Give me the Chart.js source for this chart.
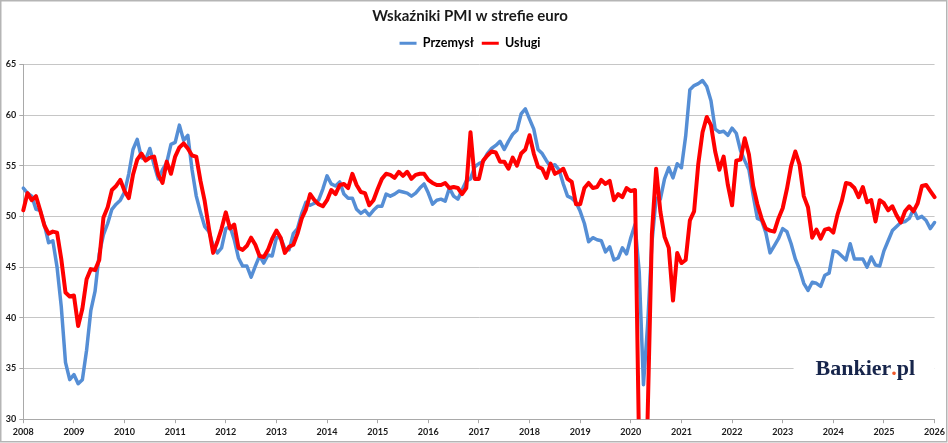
<!DOCTYPE html>
<html lang="pl">
<head>
<meta charset="utf-8">
<title>Wskaźniki PMI w strefie euro</title>
<script src="https://cdn.jsdelivr.net/npm/chart.js@4.4.1/dist/chart.umd.min.js"></script>
<style>
  html, body { margin: 0; padding: 0; background: #fff; }
  #wrap { width: 948px; height: 443px; }
</style>
</head>
<body>
<div id="wrap"><canvas id="pmi" width="948" height="443"></canvas></div>
<script>
// tick labels on the time axis (one per January)
const years = [2008, 2009, 2010, 2011, 2012, 2013, 2014, 2015, 2016, 2017,
               2018, 2019, 2020, 2021, 2022, 2023, 2024, 2025, 2026];

// PMI przemysł, monthly, Jan 2008 - Jan 2026
const pmiPrzemysl = [
  52.8, 52.3, 52.0, 50.7, 50.6, 49.2, 47.4, 47.6, 45.0, 41.1, 35.6, 33.9, // 2008
  34.4, 33.5, 33.9, 36.8, 40.7, 42.6, 46.3, 48.2, 49.3, 50.7, 51.2, 51.6, // 2009
  52.4, 54.2, 56.6, 57.6, 55.8, 55.6, 56.7, 55.1, 53.7, 54.6, 55.3, 57.1, // 2010
  57.3, 59.0, 57.5, 58.0, 54.6, 52.0, 50.4, 49.0, 48.5, 47.1, 46.4, 46.9, // 2011
  48.8, 49.0, 47.7, 45.9, 45.1, 45.1, 44.0, 45.1, 46.1, 45.4, 46.2, 46.1, // 2012
  47.9, 47.9, 46.8, 46.7, 48.3, 48.8, 50.3, 51.4, 51.1, 51.3, 51.6, 52.7, // 2013
  54.0, 53.2, 53.0, 53.4, 52.2, 51.8, 51.8, 50.7, 50.3, 50.6, 50.1, 50.6, // 2014
  51.0, 51.0, 52.2, 52.0, 52.2, 52.5, 52.4, 52.3, 52.0, 52.3, 52.8, 53.2, // 2015
  52.3, 51.2, 51.6, 51.7, 51.5, 52.8, 52.0, 51.7, 52.6, 53.5, 53.7, 54.9, // 2016
  55.2, 55.4, 56.2, 56.7, 57.0, 57.4, 56.6, 57.4, 58.1, 58.5, 60.1, 60.6, // 2017
  59.6, 58.6, 56.6, 56.2, 55.5, 54.9, 55.1, 54.6, 53.2, 52.0, 51.8, 51.4, // 2018
  50.5, 49.3, 47.5, 47.9, 47.7, 47.6, 46.5, 47.0, 45.7, 45.9, 46.9, 46.3, // 2019
  47.9, 49.2, 44.5, 33.4, 39.4, 47.4, 51.8, 51.7, 53.7, 54.8, 53.8, 55.2, // 2020
  54.8, 57.9, 62.5, 62.9, 63.1, 63.4, 62.8, 61.4, 58.6, 58.3, 58.4, 58.0, // 2021
  58.7, 58.2, 56.5, 55.5, 54.6, 52.1, 49.8, 49.6, 48.4, 46.4, 47.1, 47.8, // 2022
  48.8, 48.5, 47.3, 45.8, 44.8, 43.4, 42.7, 43.5, 43.4, 43.1, 44.2, 44.4, // 2023
  46.6, 46.5, 46.1, 45.7, 47.3, 45.8, 45.8, 45.8, 45.0, 46.0, 45.2, 45.1, // 2024
  46.6, 47.6, 48.6, 49.0, 49.4, 49.5, 49.8, 50.7, 49.8, 50.0, 49.6, 48.8, // 2025
  49.4                                                                    // 2026
];

// PMI usługi, monthly, Jan 2008 - Jan 2026
const pmiUslugi = [
  50.6, 52.3, 51.6, 52.0, 50.6, 49.1, 48.3, 48.5, 48.4, 45.8, 42.5, 42.1, // 2008
  42.2, 39.2, 40.9, 43.8, 44.8, 44.7, 45.7, 49.9, 50.9, 52.6, 53.0, 53.6, // 2009
  52.5, 51.8, 54.1, 55.6, 56.2, 55.5, 55.8, 55.9, 54.1, 53.3, 55.4, 54.2, // 2010
  55.9, 56.8, 57.2, 56.7, 56.0, 55.9, 53.5, 51.5, 48.8, 46.4, 47.5, 48.8, // 2011
  50.4, 48.8, 49.2, 46.9, 46.7, 47.1, 47.9, 47.2, 46.1, 46.0, 46.7, 47.8, // 2012
  48.6, 47.9, 46.4, 47.0, 47.2, 48.3, 49.8, 50.7, 52.2, 51.6, 51.2, 51.0, // 2013
  51.6, 52.6, 52.2, 53.1, 53.2, 52.8, 54.2, 53.1, 52.4, 52.3, 51.1, 51.6, // 2014
  52.7, 53.7, 54.2, 54.1, 53.8, 54.4, 54.0, 54.4, 53.7, 54.1, 54.2, 54.2, // 2015
  53.6, 53.3, 53.1, 53.1, 53.3, 52.8, 52.9, 52.8, 52.2, 52.8, 58.3, 53.7, // 2016
  53.7, 55.5, 56.0, 56.4, 56.3, 55.4, 55.4, 54.7, 55.8, 55.0, 56.2, 56.6, // 2017
  58.0, 56.2, 54.9, 54.7, 53.8, 55.2, 54.2, 54.4, 54.7, 53.7, 53.4, 51.2, // 2018
  51.2, 52.8, 53.3, 52.8, 52.9, 53.6, 53.2, 53.5, 51.6, 52.2, 51.9, 52.8, // 2019
  52.5, 52.6, 26.4, 12.0, 30.5, 48.3, 54.7, 50.5, 48.0, 46.9, 41.7, 46.4, // 2020
  45.4, 45.7, 49.6, 50.5, 55.2, 58.3, 59.8, 59.0, 56.4, 54.6, 55.9, 53.1, // 2021
  51.1, 55.5, 55.6, 57.7, 56.1, 53.0, 51.2, 49.8, 48.8, 48.6, 48.5, 49.8, // 2022
  50.8, 52.7, 55.0, 56.4, 55.1, 52.0, 50.9, 47.9, 48.7, 47.8, 48.7, 48.8, // 2023
  48.4, 50.2, 51.5, 53.3, 53.2, 52.8, 51.9, 52.9, 51.4, 51.6, 49.5, 51.6, // 2024
  51.3, 50.6, 51.0, 50.1, 49.4, 50.5, 51.0, 50.5, 51.3, 53.0, 53.1, 52.5, // 2025
  51.9                                                                    // 2026
];

// category labels "rrrr-mm", one per month of the series
const months = pmiPrzemysl.map((_, i) =>
  `${years[0] + Math.floor(i / 12)}-${String(i % 12 + 1).padStart(2, '0')}`);

const textColor = '#1a1a1a';
const gridGray = '#c6c6c6';
const axisGray = '#a9a9a9';
const axisFont = { family: 'Lato', size: 9, weight: 'bold' };

// white badge with the Bankier.pl mark + thin frame round the whole chart
const decor = {
  id: 'decor',
  afterDraw(chart) {
    const { ctx, chartArea } = chart;
    ctx.save();
    ctx.fillStyle = '#fff';
    ctx.fillRect(chartArea.right - 141, chartArea.bottom - 66, 141, 32);
    ctx.font = 'bold 22px "Liberation Serif"';
    ctx.textBaseline = 'alphabetic';
    let x = chartArea.right - 119;
    const y = chartArea.bottom - 44;
    [['Bankier', '#17254b'], ['.', '#f0592a'], ['pl', '#17254b']].forEach(([t, c]) => {
      ctx.fillStyle = c;
      ctx.fillText(t, x, y);
      x += ctx.measureText(t).width;
    });
    ctx.strokeStyle = '#b5b5b5';
    ctx.lineWidth = 1.5;
    ctx.strokeRect(0.75, 0.75, chart.width - 2, chart.height - 2);
    ctx.restore();
  }
};

new Chart(document.getElementById('pmi'), {
  type: 'line',
  data: {
    labels: months,
    datasets: [
      {
        label: 'Przemysł',
        data: pmiPrzemysl,
        borderColor: '#558ed5',
        borderWidth: 3.5,
        order: 1
      },
      {
        label: 'Usługi',
        data: pmiUslugi,
        borderColor: '#ff0000',
        borderWidth: 4,
        order: 0
      }
    ]
  },
  options: {
    responsive: false,
    animation: false,
    events: [],
    layout: { padding: { top: 0, left: 0, right: 8, bottom: 3 } },
    elements: {
      point: { radius: 0 },
      line: { tension: 0, borderJoinStyle: 'round', borderCapStyle: 'round', fill: false }
    },
    datasets: {
      line: { clip: { left: 4, top: 4, right: 4, bottom: 0 } }
    },
    plugins: {
      title: {
        display: true,
        text: 'Wskaźniki PMI w strefie euro',
        color: textColor,
        font: { family: 'Lato', size: 15, weight: 'bold' },
        padding: { top: 7, bottom: 4 }
      },
      // empty block under the legend, only to push the plot area down
      subtitle: {
        display: true,
        text: '',
        weight: 500,
        font: { size: 1 },
        padding: { top: 0, bottom: 3.6 }
      },
      legend: {
        labels: {
          boxWidth: 17,
          boxHeight: 3,
          padding: 8,
          color: textColor,
          font: { family: 'Lato', size: 12.5, weight: 'bold' },
          generateLabels: chart => chart.data.datasets.map((ds, i) => ({
            text: ds.label,
            fillStyle: ds.borderColor,
            strokeStyle: ds.borderColor,
            lineWidth: 0,
            hidden: false,
            datasetIndex: i
          }))
        }
      },
      tooltip: { enabled: false }
    },
    scales: {
      x: {
        type: 'category',
        offset: false,
        ticks: {
          autoSkip: false,
          maxRotation: 0,
          minRotation: 0,
          padding: 3,
          color: textColor,
          font: axisFont,
          callback: (v, i) => (i % 12 === 0 ? String(years[i / 12]) : '')
        },
        grid: {
          drawOnChartArea: false,
          tickLength: 4,
          tickColor: c => (c.index % 12 === 0 ? axisGray : 'rgba(0,0,0,0)')
        },
        border: { color: axisGray, width: 1 }
      },
      y: {
        min: 30,
        max: 65,
        ticks: { stepSize: 5, padding: 3, color: textColor, font: axisFont },
        grid: { color: gridGray, lineWidth: 1, tickLength: 4, tickColor: axisGray },
        border: { color: axisGray, width: 1 },
        afterFit: s => { s.width = 23.3; }
      }
    }
  },
  plugins: [decor]
});
</script>
</body>
</html>
